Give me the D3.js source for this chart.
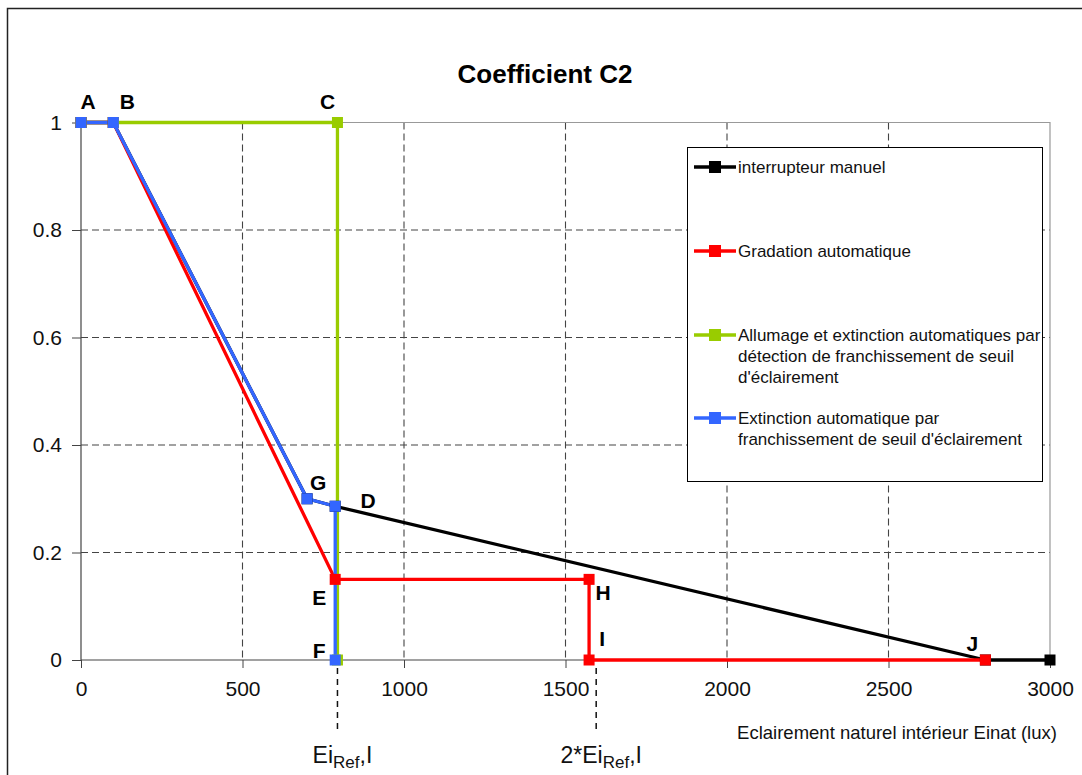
<!DOCTYPE html>
<html>
<head>
<meta charset="utf-8">
<script src="https://cdn.jsdelivr.net/npm/d3@7"></script>
<style>
  html, body { margin: 0; padding: 0; background: #fff; }
  svg { display: block; font-family: "Liberation Sans", Arial, sans-serif; }
</style>
</head>
<body>
<svg id="chart" width="1082" height="775"></svg>
<script>
// ---- data ----
const seriesNames = [
  "interrupteur manuel",
  "Gradation automatique",
  "Allumage et extinction automatiques par détection de franchissement de seuil d'éclairement",
  "Extinction automatique par franchissement de seuil d'éclairement"
];
const legendLines = [
  ["interrupteur manuel"],
  ["Gradation automatique"],
  ["Allumage et extinction automatiques par", "détection de franchissement de seuil", "d'éclairement"],
  ["Extinction automatique par", "franchissement de seuil d'éclairement"]
];
const seriesColors = ["#000000", "#ff0000", "#99cc00", "#3366ff"];

const manuelX = [0, 100, 700, 787, 2800, 3000];
const manuelY = [1, 1, 0.3, 0.286, 0, 0];
const gradationX = [0, 100, 787, 1573, 1573, 2800];
const gradationY = [1, 1, 0.15, 0.15, 0, 0];
const allumageX = [0, 100, 794, 794];
const allumageY = [1, 1, 1, 0];
const extinctionX = [0, 100, 700, 787, 787];
const extinctionY = [1, 1, 0.3, 0.286, 0];

const xTicks = [0, 500, 1000, 1500, 2000, 2500, 3000];
const yTicks = [0, 0.2, 0.4, 0.6, 0.8, 1];
const yTickLabels = ["0", "0.2", "0.4", "0.6", "0.8", "1"];

const pointNames = ["A", "B", "C", "D", "E", "F", "G", "H", "I", "J"];
const pointX = [0, 100, 794, 787, 787, 787, 700, 1573, 1573, 2800];
const pointY = [1, 1, 1, 0.286, 0.15, 0, 0.3, 0.15, 0, 0];

const refValues = [794, 1595];
const refPrefix = ["", "2*"];

const chartTitle = "Coefficient C2";
const xAxisTitle = "Eclairement naturel intérieur Einat (lux)";

// ---- layout ----
const svg = d3.select("#chart");
const x = d3.scaleLinear().domain([0, 3000]).range([81, 1050]);
const y = d3.scaleLinear().domain([0, 1]).range([660, 122.5]);

// outer chart border
svg.append("rect").attr("x", 7.5).attr("y", 8.5).attr("width", 1120).attr("height", 820)
  .attr("fill", "none").attr("stroke", "#222").attr("stroke-width", 1.5);

// title
svg.append("text").attr("x", 545).attr("y", 83).attr("text-anchor", "middle")
  .attr("font-size", 26).attr("font-weight", "bold").text(chartTitle);

// gridlines
const grid = svg.append("g");
grid.selectAll("line.v").data(xTicks.filter(d => d > 0 && d < 3000)).join("line")
  .attr("x1", d => x(d)).attr("x2", d => x(d)).attr("y1", y(1)).attr("y2", y(0))
  .attr("stroke", "#444").attr("stroke-dasharray", "7,4").attr("stroke-width", 1.1);
grid.selectAll("line.h").data(yTicks.filter(d => d > 0 && d < 1)).join("line")
  .attr("x1", x(0)).attr("x2", x(3000)).attr("y1", d => y(d)).attr("y2", d => y(d))
  .attr("stroke", "#444").attr("stroke-dasharray", "7,4").attr("stroke-width", 1.1);

// plot border (top/right)
svg.append("path").attr("d", `M${x(0)},${y(1)}H${x(3000)}V${y(0)}`)
  .attr("fill", "none").attr("stroke", "#999").attr("stroke-width", 1.2);

// axes
const yAxis = d3.axisLeft(y).tickValues(yTicks).tickFormat((d, i) => yTickLabels[i])
  .tickSize(9).tickPadding(10);
const gy = svg.append("g").attr("transform", `translate(${x(0)},0)`).call(yAxis);
const xAxis = d3.axisBottom(x).tickValues(xTicks).tickFormat(d3.format("d"))
  .tickSize(8).tickPadding(13);
const gx = svg.append("g").attr("transform", `translate(0,${y(0)})`).call(xAxis);
[gx, gy].forEach(g => {
  g.select(".domain").attr("stroke", "#444").attr("stroke-width", 1.2);
  g.selectAll(".tick line").attr("stroke", "#444");
  g.selectAll(".tick text").attr("font-size", 21).attr("fill", "#111")
    .attr("font-family", "Liberation Sans, Arial, sans-serif");
});
gy.select(".domain").attr("d", `M0,${y(1)}V${y(0)}`);
gx.select(".domain").attr("d", `M${x(0)},0H${x(3000)}`);

// x axis title
svg.append("text").attr("x", 897).attr("y", 739).attr("text-anchor", "middle")
  .attr("font-size", 18.5).attr("fill", "#111").text(xAxisTitle);

// reference marks below axis
refValues.forEach((v, i) => {
  svg.append("line").attr("x1", x(v)).attr("x2", x(v)).attr("y1", y(0) + 8).attr("y2", y(0) + 70)
    .attr("stroke", "#111").attr("stroke-width", 1.5).attr("stroke-dasharray", "6,5");
  const t = svg.append("text").attr("x", x(v) + 5).attr("y", 763).attr("text-anchor", "middle")
    .attr("font-size", 23).attr("fill", "#111");
  t.append("tspan").text(refPrefix[i] + "Ei");
  t.append("tspan").attr("font-size", 17).attr("dy", 5).text("Ref");
  t.append("tspan").attr("dy", -5).text(",I");
});

// series
const seriesData = [
  d3.zip(manuelX, manuelY),
  d3.zip(gradationX, gradationY),
  d3.zip(allumageX, allumageY),
  d3.zip(extinctionX, extinctionY)
];
const markerIdx = [
  [0, 1, 2, 3, 4, 5],
  [0, 1, 2, 3, 4, 5],
  [0, 1, 2, 3],
  [0, 1, 2, 3, 4]
];
const line = d3.line().x(d => x(d[0])).y(d => y(d[1]));
seriesData.forEach((pts, i) => {
  svg.append("path").attr("d", line(pts)).attr("fill", "none")
    .attr("stroke", seriesColors[i]).attr("stroke-width", 3.3).attr("stroke-linejoin", "round");
});
const ms = 11;
seriesData.forEach((pts, i) => {
  svg.append("g").selectAll("rect").data(markerIdx[i].map(k => pts[k])).join("rect")
    .attr("x", d => x(d[0]) - ms / 2).attr("y", d => y(d[1]) - ms / 2)
    .attr("width", ms).attr("height", ms).attr("fill", seriesColors[i]);
});

// point labels
const labelOffsets = {
  A: [7, -21], B: [14, -21], C: [-10, -21], D: [33, -6], E: [-16, 18],
  F: [-16, -10], G: [11, -16], H: [14, 13], I: [13, -22], J: [-13, -17]
};
svg.append("g").selectAll("text").data(pointNames).join("text")
  .attr("x", (d, i) => x(pointX[i]) + labelOffsets[d][0])
  .attr("y", (d, i) => y(pointY[i]) + labelOffsets[d][1])
  .attr("text-anchor", "middle").attr("dominant-baseline", "central")
  .attr("font-size", 21).attr("font-weight", "bold").text(d => d);

// legend
const lg = svg.append("g");
lg.append("rect").attr("x", 687.5).attr("y", 147.5).attr("width", 355).attr("height", 334)
  .attr("fill", "#fff").attr("stroke", "#000").attr("stroke-width", 1);
const legendY = [167, 251, 335, 418];
legendLines.forEach((lines, i) => {
  const cy = legendY[i];
  lg.append("line").attr("x1", 694).attr("x2", 736).attr("y1", cy).attr("y2", cy)
    .attr("stroke", seriesColors[i]).attr("stroke-width", 3.3);
  lg.append("rect").attr("x", 715 - 6).attr("y", cy - 6).attr("width", 12).attr("height", 12)
    .attr("fill", seriesColors[i]);
  const t = lg.append("text").attr("x", 738).attr("y", cy).attr("font-size", 17)
    .attr("fill", "#111").attr("dominant-baseline", "central");
  lines.forEach((s, k) => t.append("tspan").attr("x", 738).attr("dy", k === 0 ? 0 : 21).text(s));
});
</script>
</body>
</html>
